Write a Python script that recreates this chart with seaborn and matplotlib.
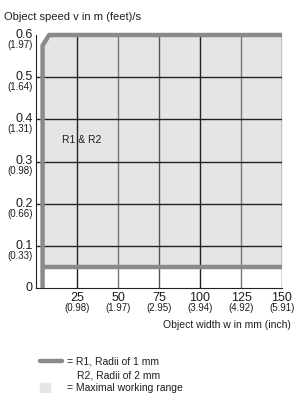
import numpy as np
import pandas as pd
import matplotlib
matplotlib.use("Agg")
import matplotlib.pyplot as plt
import matplotlib.transforms as mtransforms
import seaborn as sns

# data
y_ticks = [0.1, 0.2, 0.3, 0.4, 0.5, 0.6]
y_ticks_ft = ["(0.33)", "(0.66)", "(0.98)", "(1.31)", "(1.64)", "(1.97)"]
x_ticks = [25, 50, 75, 100, 125, 150]
x_ticks_in = ["(0.98)", "(1.97)", "(2.95)", "(3.94)", "(4.92)", "(5.91)"]

# limit curve R1 & R2 (width mm, speed m/s)
curve_w = [4, 4, 8, 150]
curve_v = [0.0, 0.575, 0.6, 0.6]
# minimum speed line
min_w = [4, 150]
min_v = [0.05, 0.05]

sns.set_style("white")
plt.rcParams['font.family'] = ['Liberation Sans', 'DejaVu Sans']
txt = "#1e1e1e"

fig = plt.figure(figsize=(2.96, 3.93), dpi=100)
ax = fig.add_axes([36/296, 1 - 288/393, 246/296, 253/393])
ax.set_xlim(0, 150)
ax.set_ylim(0, 0.6)

# working range
ax.fill_between(curve_w[1:], [0.05] * 3, curve_v[1:], color="#e5e5e7", zorder=0, lw=0)

# grid
grid_cols = ["#222222", "#777777", "#555555", "#222222", "#777777", "#333333"]
for xv, c in zip(x_ticks, grid_cols):
    ax.axvline(xv, color=c, lw=1.0, zorder=1)
for yv in y_ticks[:-1]:
    ax.axhline(yv, color="#222222", lw=1.0, zorder=1)

df = pd.DataFrame({"w": curve_w, "v": curve_v})
sns.lineplot(data=df, x="w", y="v", sort=False, estimator=None, ax=ax, color="#8a8a8a", lw=3.2,
             clip_on=False, zorder=3, solid_joinstyle="miter", solid_capstyle="butt")
df2 = pd.DataFrame({"w": min_w, "v": min_v})
sns.lineplot(data=df2, x="w", y="v", sort=False, estimator=None, ax=ax, color="#8a8a8a", lw=3.2,
             clip_on=False, zorder=3, solid_capstyle="butt")

ax.text(16, 0.35, "R1 & R2", fontsize=7.5, color=txt, va="center")

for s in ["top", "right"]:
    ax.spines[s].set_visible(False)
for s in ["left", "bottom"]:
    ax.spines[s].set_color("#222222")
    ax.spines[s].set_linewidth(0.8)

ax.set_xlabel("")
ax.set_ylabel("")
ax.set_yticks([0] + y_ticks)
ax.set_yticklabels([])
ax.set_xticks(x_ticks)
ax.set_xticklabels([])
ax.tick_params(axis="y", length=3, width=0.8, color="#222222", direction="out", pad=1)
ax.tick_params(axis="x", length=0)

ytr = mtransforms.blended_transform_factory(ax.transAxes, ax.transData)
off = mtransforms.ScaledTranslation(-3/100, 0, fig.dpi_scale_trans)
ax.text(0, 0, "0", transform=ytr + off, ha="right", va="center", fontsize=9, color=txt)
for yv, ft in zip(y_ticks, y_ticks_ft):
    ax.text(0, yv, f"{yv:.1f}", transform=ytr + off, ha="right", va="center",
            fontsize=9, color=txt)
    ax.text(0, yv, ft, transform=ytr + off + mtransforms.ScaledTranslation(0, -10/100, fig.dpi_scale_trans),
            ha="right", va="center", fontsize=7, color=txt)

xtr = mtransforms.blended_transform_factory(ax.transData, ax.transAxes)
for xv, lab in zip(x_ticks, x_ticks_in):
    ax.text(xv, 0, str(xv), transform=xtr + mtransforms.ScaledTranslation(0, -10/100, fig.dpi_scale_trans),
            ha="center", va="center", fontsize=9, color=txt)
    ax.text(xv, 0, lab, transform=xtr + mtransforms.ScaledTranslation(0, -20/100, fig.dpi_scale_trans),
            ha="center", va="center", fontsize=7, color=txt)

fig.text(4/296, 1 - 17/393, "Object speed v in m (feet)/s", fontsize=8, color=txt, va="center")
fig.text(291/296, 1 - 325/393, "Object width w in mm (inch)", fontsize=7.5, color=txt,
         va="center", ha="right")

# legend
fig.add_artist(plt.Line2D([40/296, 62/296], [1 - 361/393] * 2, color="#8a8a8a", lw=3.2,
                          solid_capstyle="round"))
fig.text(67/296, 1 - 361/393, "= R1, Radii of 1 mm", fontsize=7.5, color=txt, va="center")
fig.text(77/296, 1 - 375/393, "R2, Radii of 2 mm", fontsize=7.5, color=txt, va="center")
fig.add_artist(plt.Rectangle((40/296, 1 - 393/393), 10/296, 10/393, color="#e5e5e7",
                             transform=fig.transFigure))
fig.text(67/296, 1 - 388/393, "= Maximal working range", fontsize=7.5, color=txt, va="center")

fig.savefig("out.png", dpi=100)
